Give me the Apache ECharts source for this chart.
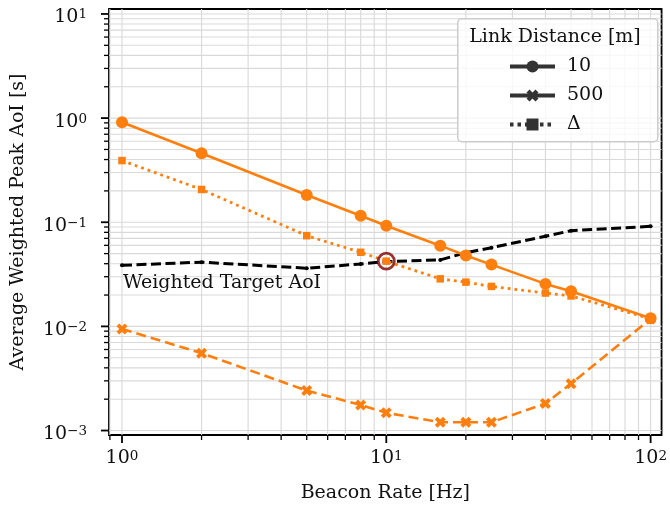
<!DOCTYPE html>
<html><head><meta charset="utf-8">
<script src="https://cdn.jsdelivr.net/npm/echarts@6/dist/echarts.min.js"></script>
<style>html,body{margin:0;padding:0;background:#fff}#c{width:670px;height:508px}</style>
</head><body><div id="c"></div>
<script>
// ---- data ----
const rates = [1, 2, 5, 8, 10, 16, 20, 25, 40, 50, 100];
const aoi10 = [0.914, 0.459, 0.183, 0.1153, 0.0926, 0.0596, 0.0479, 0.0392, 0.0256, 0.0217, 0.0120];
const aoi500 = [0.00946, 0.00553, 0.00242, 0.00176, 0.00148, 0.00120, 0.00120, 0.00120, 0.00182, 0.00282, 0.0118];
const aoiDelta = [0.391, 0.2064, 0.0743, 0.0515, 0.0423, 0.0286, 0.0266, 0.0242, 0.0209, 0.0196, 0.01185];
const targetAoI = [0.0386, 0.0414, 0.0362, 0.0398, 0.0419, 0.0435, 0.0510, 0.0570, 0.0733, 0.0830, 0.0914];
const highlightPoint = [10, 0.0423];
const targetLabel = { text: 'Weighted Target AoI', x: 1, y: 0.0262 };
const legendNames = ['10', '500', 'Δ'];
const legendTitle = 'Link Distance [m]';
const xTitle = 'Beacon Rate [Hz]';
const yTitle = 'Average Weighted Peak AoI [s]';
const X_MIN = 0.893, X_MAX = 110, Y_MIN = 9.06e-4, Y_MAX = 11.16;

// ---- styles ----
const FONT = 'DejaVu Serif';
const FS = 19;
const ORANGE = '#ff7f0e';
const TXT = '#111';
const xMarker = 'path://M2.5,0 L5,2.5 L7.5,0 L10,2.5 L7.5,5 L10,7.5 L7.5,10 L5,7.5 L2.5,10 L0,7.5 L2.5,5 L0,2.5 Z';

const pairs = arr => rates.map((x, i) => [x, arr[i]]);

function logSteps(lo, hi) {
  const out = [];
  for (let e = Math.floor(Math.log10(lo)); e <= Math.ceil(Math.log10(hi)); e++) {
    for (let m = 1; m <= 9; m++) {
      const v = m * Math.pow(10, e);
      if (v >= lo * 0.99999 && v <= hi * 1.00001) out.push({ v, major: m === 1 });
    }
  }
  return out;
}

function gridRender(params, api) {
  if (params.dataIndex !== 0) return;
  const children = [];
  const gs = { stroke: '#d9d9d9', lineWidth: 1.1 };
  logSteps(X_MIN, X_MAX).forEach(t => {
    const a = api.coord([t.v, Y_MIN]), b = api.coord([t.v, Y_MAX]);
    children.push({ type: 'line', silent: true, shape: { x1: a[0], y1: a[1], x2: b[0], y2: b[1] }, style: gs });
    const len = t.major ? 8 : 5;
    children.push({ type: 'line', silent: true, z2: 10, shape: { x1: a[0], y1: a[1], x2: a[0], y2: a[1] + len },
      style: { stroke: '#000', lineWidth: t.major ? 1.8 : 1.3 } });
  });
  logSteps(Y_MIN, Y_MAX).forEach(t => {
    const a = api.coord([X_MIN, t.v]), b = api.coord([X_MAX, t.v]);
    children.push({ type: 'line', silent: true, shape: { x1: a[0], y1: a[1], x2: b[0], y2: b[1] }, style: gs });
    const len = t.major ? 8 : 5;
    children.push({ type: 'line', silent: true, z2: 10, shape: { x1: a[0] - len, y1: a[1], x2: a[0], y2: a[1] },
      style: { stroke: '#000', lineWidth: t.major ? 1.8 : 1.3 } });
  });
  return { type: 'group', children };
}

function powLabel(v) {
  const e = Math.log10(v);
  const r = Math.round(e);
  if (Math.abs(e - r) > 1e-6) return '';
  return '{b|10}{s|' + String(r).replace('-', '\u2212') + '}';
}
const rich = {
  b: { fontFamily: FONT, fontSize: FS, color: TXT, lineHeight: 19, verticalAlign: 'bottom', padding: [3, 0, 0, 0] },
  s: { fontFamily: FONT, fontSize: 13.5, color: TXT, lineHeight: 13.5, verticalAlign: 'top' }
};

const chart = echarts.init(document.getElementById('c'), null, { renderer: 'canvas' });
chart.setOption({
  animation: false,
  backgroundColor: '#fff',
  grid: { left: 109, right: 7, top: 9, bottom: 71.5, show: true, borderColor: '#000', borderWidth: 1.8, backgroundColor: 'transparent' },
  xAxis: {
    type: 'log', logBase: 10, min: X_MIN, max: X_MAX,
    axisLine: { show: false }, axisTick: { show: false }, splitLine: { show: false }, minorTick: { show: false },
    axisLabel: { formatter: powLabel, rich, margin: 14, showMinLabel: true, showMaxLabel: true },
    name: xTitle, nameLocation: 'middle', nameGap: 49,
    nameTextStyle: { fontFamily: FONT, fontSize: FS, color: TXT }
  },
  yAxis: {
    type: 'log', logBase: 10, min: Y_MIN, max: Y_MAX,
    axisLine: { show: false }, axisTick: { show: false }, splitLine: { show: false }, minorTick: { show: false },
    axisLabel: { formatter: powLabel, rich, margin: 22, padding: [7, 0, 0, 0] },
    name: yTitle, nameLocation: 'middle', nameGap: 81,
    nameTextStyle: { fontFamily: FONT, fontSize: FS, color: TXT }
  },
  legend: {
    data: legendNames, orient: 'vertical', left: 508, top: 57, padding: 0, z: 20,
    itemWidth: 45, itemHeight: 15, itemGap: 10, selectedMode: false,
    textStyle: { fontFamily: FONT, fontSize: FS, color: TXT, lineHeight: 15, padding: [0, 0, 0, 7] },
    lineStyle: { width: 'inherit' }
  },
  graphic: [
    { type: 'rect', left: 457, top: 18, z: 15, shape: { width: 200, height: 123, r: 4 },
      style: { fill: 'rgba(255,255,255,0.8)', stroke: '#cccccc', lineWidth: 1.5 } },
    { type: 'text', x: 555, y: 37, z: 16,
      style: { text: legendTitle, font: FS + 'px "' + FONT + '"', fill: TXT, align: 'center', verticalAlign: 'middle' } }
  ],
  series: [
    { type: 'custom', coordinateSystem: 'cartesian2d', renderItem: gridRender, data: [[1, 1]], z: 1, silent: true, clip: false },
    { name: 'target', type: 'line', data: pairs(targetAoI), z: 2,
      lineStyle: { color: '#000', width: 3, type: [10, 4.5] }, symbol: 'circle', symbolSize: 4,
      itemStyle: { color: '#000' },
      markPoint: { symbol: 'circle', symbolSize: 0, data: [{ coord: [targetLabel.x, targetLabel.y] }],
        label: { show: true, position: 'right', distance: 1, formatter: targetLabel.text, fontFamily: FONT, fontSize: FS, color: TXT } } },
    { name: 'd500', type: 'line', data: pairs(aoi500), z: 3,
      lineStyle: { color: ORANGE, width: 2.6, type: [10, 5] }, symbol: xMarker, symbolSize: 11, itemStyle: { color: ORANGE } },
    { name: 'dDelta', type: 'line', data: pairs(aoiDelta), z: 3,
      lineStyle: { color: ORANGE, width: 2.8, type: [2.8, 4] }, symbol: 'rect', symbolSize: 7.5, itemStyle: { color: ORANGE } },
    { name: 'd10', type: 'line', data: pairs(aoi10), z: 4,
      lineStyle: { color: ORANGE, width: 2.6 }, symbol: 'circle', symbolSize: 12, itemStyle: { color: ORANGE } },
    { name: 'hl', type: 'scatter', data: [highlightPoint], z: 6, symbol: 'circle', symbolSize: 16,
      itemStyle: { color: 'rgba(0,0,0,0)', borderColor: '#800000', borderWidth: 2.8 } },
    // legend proxies
    { name: legendNames[0], type: 'line', data: [], symbol: 'circle', itemStyle: { color: '#333' }, lineStyle: { color: '#333', width: 4 } },
    { name: legendNames[1], type: 'line', data: [], symbol: xMarker, itemStyle: { color: '#333' }, lineStyle: { color: '#333', width: 4 } },
    { name: legendNames[2], type: 'line', data: [], symbol: 'rect', itemStyle: { color: '#333' }, lineStyle: { color: '#333', width: 4, type: [3.5, 4] } }
  ]
});
</script>
</body></html>
